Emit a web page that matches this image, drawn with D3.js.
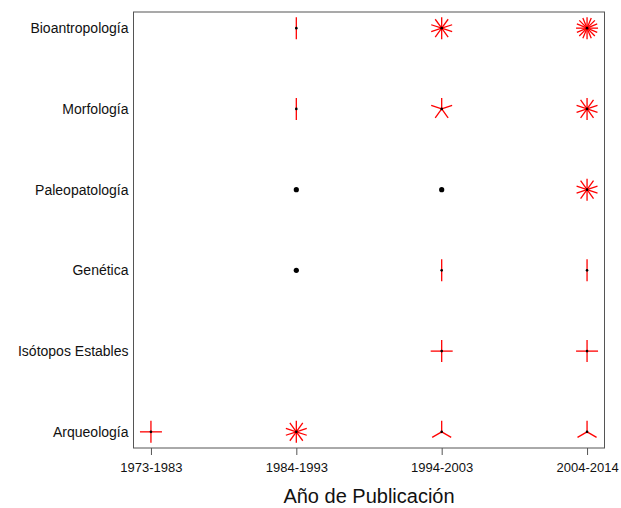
<!DOCTYPE html>
<html>
<head>
<meta charset="utf-8">
<script src="https://cdn.jsdelivr.net/npm/d3@7"></script>
<style>
  body { margin: 0; background: #fff; }
  text { font-family: "Liberation Sans", Arial, sans-serif; }
</style>
</head>
<body>
<svg width="621" height="508"></svg>
<script>
// periods on the x axis, topics on the y axis (bottom to top)
var periods = ["1973-1983", "1984-1993", "1994-2003", "2004-2014"];
var topics = ["Arqueología", "Isótopos Estables", "Genética", "Paleopatología", "Morfología", "Bioantropología"];

// number of publications per topic (row) and period (column); 0 = nothing drawn
var arqueologia    = [4, 10, 3, 3];
var isotopos       = [0, 0, 4, 4];
var genetica       = [0, 1, 2, 2];
var paleopatologia = [0, 1, 1, 10];
var morfologia     = [0, 2, 5, 10];
var bioantropologia = [0, 2, 10, 16];

var counts = [arqueologia, isotopos, genetica, paleopatologia, morfologia, bioantropologia];

var svg = d3.select("svg");

var x = d3.scaleLinear()
    .domain([1 - 0.12, 4 + 0.12])
    .range([133.5, 604.5]);

var y = d3.scaleLinear()
    .domain([1 - 0.2, 6 + 0.2])
    .range([448, 12]);

var data = [];
counts.forEach(function(row, i) {
    row.forEach(function(n, j) {
        if (n > 0) data.push({ x: j + 1, y: i + 1, n: n });
    });
});

// plot box
svg.append("rect")
    .attr("x", x.range()[0])
    .attr("y", y.range()[1])
    .attr("width", x.range()[1] - x.range()[0])
    .attr("height", y.range()[0] - y.range()[1])
    .attr("fill", "none")
    .attr("stroke", "#555")
    .attr("stroke-width", 1);

var xAxis = svg.append("g")
    .attr("transform", "translate(0," + y.range()[0] + ")")
    .call(d3.axisBottom(x)
        .tickValues([1, 2, 3, 4])
        .tickSize(7)
        .tickPadding(8)
        .tickFormat(function(d) { return periods[d - 1]; }));

var yAxis = svg.append("g")
    .attr("transform", "translate(" + x.range()[0] + ",0)")
    .call(d3.axisLeft(y)
        .tickValues([1, 2, 3, 4, 5, 6])
        .tickSize(0)
        .tickPadding(5)
        .tickFormat(function(d) { return topics[d - 1]; }));

[xAxis, yAxis].forEach(function(g) {
    g.select(".domain").remove();
    g.selectAll("line").attr("stroke", "#555");
    g.selectAll("text")
        .attr("fill", "#111")
        .style("font-family", "'Liberation Sans', Arial, sans-serif");
});
xAxis.selectAll("text").attr("font-size", 13);
yAxis.selectAll("text").attr("font-size", 14);

svg.append("text")
    .attr("x", (x.range()[0] + x.range()[1]) / 2)
    .attr("y", 503)
    .attr("text-anchor", "middle")
    .attr("font-size", 20)
    .attr("fill", "#111")
    .text("Año de Publicación");

// sunflower petals: n segments, one pointing straight up
var r = 11;
var petals = [];
data.filter(function(d) { return d.n > 1; }).forEach(function(d) {
    for (var k = 1; k <= d.n; k++) {
        var a = 2 * Math.PI * k / d.n;
        petals.push({ x: d.x, y: d.y, dx: r * Math.sin(a), dy: -r * Math.cos(a) });
    }
});

svg.append("g")
    .selectAll("line")
    .data(petals)
    .enter().append("line")
    .attr("x1", function(d) { return x(d.x); })
    .attr("y1", function(d) { return y(d.y); })
    .attr("x2", function(d) { return x(d.x) + d.dx; })
    .attr("y2", function(d) { return y(d.y) + d.dy; })
    .attr("stroke", "#ff0000")
    .attr("stroke-width", 1.3);

svg.append("g")
    .selectAll("circle")
    .data(data)
    .enter().append("circle")
    .attr("cx", function(d) { return x(d.x); })
    .attr("cy", function(d) { return y(d.y); })
    .attr("r", function(d) { return d.n > 1 ? 1.3 : 2.6; })
    .attr("fill", "#000");
</script>
</body>
</html>
